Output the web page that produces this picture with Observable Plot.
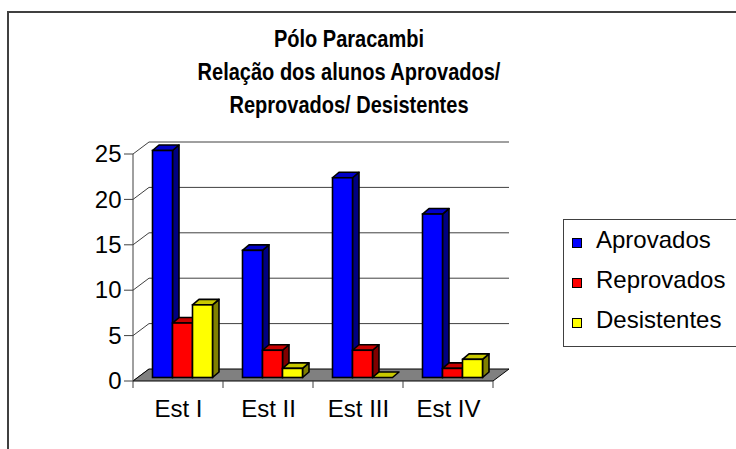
<!DOCTYPE html>
<html>
<head>
<meta charset="utf-8">
<script src="https://cdn.jsdelivr.net/npm/d3@7"></script>
<script src="https://cdn.jsdelivr.net/npm/@observablehq/plot@0.6"></script>
<style>
  body { margin: 0; background: #fff; }
  #wrap { position: relative; width: 736px; height: 449px; overflow: hidden; font-family: "Liberation Sans", Arial, sans-serif; color: #000; }
  #frame { position: absolute; left: 7px; top: 11px; width: 900px; height: 600px; border-left: 2px solid #404040; border-top: 2px solid #404040; }
  #title { position: absolute; left: 0; top: 23px; width: 698px; text-align: center; font-weight: bold; font-size: 23px; line-height: 33px; transform: scaleX(0.87); transform-origin: 349px 0; }
  #legend { position: absolute; left: 563px; top: 219px; width: 200px; height: 126px; border: 1px solid #404040; }
  .lg-text { position: absolute; left: 596px; font-size: 24px; line-height: 24px; white-space: nowrap; }
  .lg-sw { position: absolute; left: 572px; width: 8px; height: 8px; border: 1px solid #000; }
  #chart svg { position: absolute; left: 0; top: 0; }
</style>
</head>
<body>
<div id="wrap">
  <div id="frame"></div>
  <div id="title"></div>
  <div id="legend"></div>
  <div id="chart"></div>
</div>
<script>
const titleLines = ["Pólo Paracambi", "Relação dos alunos Aprovados/", "Reprovados/ Desistentes"];
const categories = ["Est I", "Est II", "Est III", "Est IV"];
const series = ["Aprovados", "Reprovados", "Desistentes"];
const aprovados = [25, 14, 22, 18];
const reprovados = [6, 3, 3, 1];
const desistentes = [8, 1, 0, 2];
const yTicks = [0, 5, 10, 15, 20, 25];
const frontColors = ["#0000ff", "#ff0000", "#ffff00"];
const sideColors = ["#000080", "#800000", "#808000"];
const topColors = ["#0000c8", "#c80000", "#c8c800"];

const seriesValues = [aprovados, reprovados, desistentes];
const rows = [];
categories.forEach((c, ci) => seriesValues.forEach((arr, si) => rows.push({cat: c, series: series[si], si, value: arr[ci]})));

// title
document.getElementById("title").innerHTML = titleLines.map(t => `<div>${t}</div>`).join("");

// legend
const wrap = document.getElementById("wrap");
series.forEach((s, i) => {
  const baseline = 248 + i * 40;
  const sw = document.createElement("div");
  sw.className = "lg-sw";
  sw.style.top = (baseline - 10) + "px";
  sw.style.background = frontColors[i];
  wrap.appendChild(sw);
  const tx = document.createElement("div");
  tx.className = "lg-text";
  tx.style.top = (baseline - 20) + "px";
  tx.textContent = s;
  wrap.appendChild(tx);
});

// 3D scene drawn from Plot's scales
const DEPTH = [16, -12];     // wall depth offset (px)
const FRONT = [4.5, -3.5];   // bar front plane offset
const BAR = [6.5, -5.5];     // bar depth projection
const LINE = "#404040";

function scene(index, scales) {
  const x = scales.x, y = scales.y;
  const bw = x.bandwidth();
  const inner = d3.scaleBand().domain(series).range([0, bw]).paddingInner(0).paddingOuter(0.75);
  const barW = inner.bandwidth();
  const xa = x(categories[0]);
  const xb = x(categories[categories.length - 1]) + bw;
  const y0 = y(0);
  const yMax = y(d3.max(yTicks));
  const g = d3.create("svg:g");
  const pts = a => a.map(p => p.join(",")).join(" ");

  // gridlines: side wall diagonals and back wall lines
  for (const v of yTicks) {
    const yy = y(v);
    g.append("line").attr("x1", xa).attr("y1", yy).attr("x2", xa + DEPTH[0]).attr("y2", yy + DEPTH[1])
      .attr("stroke", LINE).attr("stroke-width", 1);
    if (v !== 0) g.append("line").attr("x1", xa + DEPTH[0]).attr("y1", yy + DEPTH[1]).attr("x2", xb + DEPTH[0]).attr("y2", yy + DEPTH[1])
      .attr("stroke", LINE).attr("stroke-width", 1);
  }
  // floor
  g.append("polygon").attr("points", pts([[xa, y0], [xb, y0], [xb + DEPTH[0], y0 + DEPTH[1]], [xa + DEPTH[0], y0 + DEPTH[1]]]))
    .attr("fill", "#808080").attr("stroke", "#000").attr("stroke-width", 1);
  // front value axis + ticks
  g.append("line").attr("x1", xa).attr("y1", y0).attr("x2", xa).attr("y2", yMax).attr("stroke", LINE);
  for (const v of yTicks) {
    g.append("line").attr("x1", xa - 9).attr("y1", y(v)).attr("x2", xa).attr("y2", y(v)).attr("stroke", LINE);
  }
  // category boundary ticks
  const bounds = categories.map(c => x(c)).concat([xb]);
  for (const bx of bounds) {
    g.append("line").attr("x1", bx).attr("y1", y0).attr("x2", bx).attr("y2", y0 + 7).attr("stroke", LINE);
  }
  // bars (left to right, side/top/front)
  for (const r of rows) {
    const left = x(r.cat) + inner(r.series) + FRONT[0];
    const right = left + barW;
    const top = y(r.value) + FRONT[1];
    const bot = y0 + FRONT[1];
    const sw = 1.6;
    if (r.value > 0) {
      g.append("polygon").attr("points", pts([[right, top], [right + BAR[0], top + BAR[1]], [right + BAR[0], bot + BAR[1]], [right, bot]]))
        .attr("fill", sideColors[r.si]).attr("stroke", "#000").attr("stroke-width", sw).attr("stroke-linejoin", "round");
    }
    g.append("polygon").attr("points", pts([[left, top], [right, top], [right + BAR[0], top + BAR[1]], [left + BAR[0], top + BAR[1]]]))
      .attr("fill", topColors[r.si]).attr("stroke", "#000").attr("stroke-width", sw).attr("stroke-linejoin", "round");
    if (r.value > 0) {
      g.append("rect").attr("x", left).attr("y", top).attr("width", barW).attr("height", bot - top)
        .attr("fill", frontColors[r.si]).attr("stroke", "#000").attr("stroke-width", sw);
    }
  }
  return g.node();
}

const chart = Plot.plot({
  width: 736,
  height: 449,
  marginLeft: 133,
  marginRight: 243,
  marginTop: 154,
  marginBottom: 68,
  style: {fontFamily: "Liberation Sans, Arial, sans-serif", fontSize: "24px", color: "#000", background: "none", overflow: "visible"},
  x: {type: "band", domain: categories, padding: 0, tickSize: 0, tickPadding: 18, label: null},
  y: {domain: [0, 25], ticks: yTicks, tickSize: 0, tickPadding: 12, label: null},
  marks: [
    Plot.dot(rows, {x: "cat", y: "value", r: 0}),
    scene
  ]
});
document.getElementById("chart").appendChild(chart);
</script>
</body>
</html>
